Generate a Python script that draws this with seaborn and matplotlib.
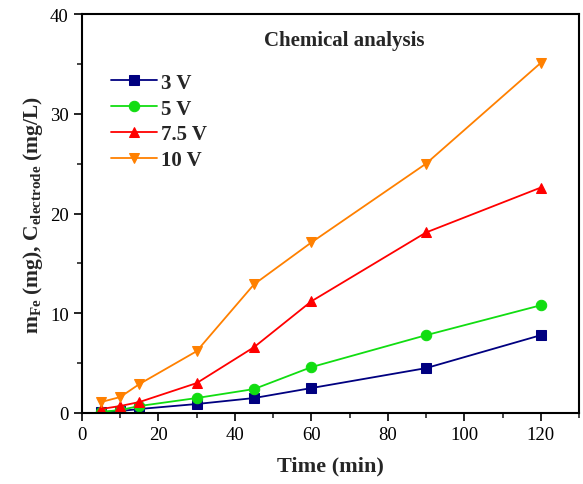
import numpy as np
import pandas as pd
import matplotlib
matplotlib.use("Agg")
import matplotlib.pyplot as plt
import seaborn as sns
from matplotlib.ticker import MultipleLocator

# Veriler
time_min = [5, 10, 15, 30, 45, 60, 90, 120]
v3 = [0.1, 0.2, 0.4, 0.9, 1.5, 2.5, 4.5, 7.8]
v5 = [0.1, 0.3, 0.7, 1.5, 2.4, 4.6, 7.8, 10.8]
v75 = [0.4, 0.7, 1.1, 3.0, 6.6, 11.2, 18.1, 22.6]
v10 = [1.1, 1.6, 2.9, 6.2, 12.9, 17.1, 25.0, 35.1]

labels = ["3 V", "5 V", "7.5 V", "10 V"]
colors = ["#000080", "#11dd11", "#ff0000", "#ff8000"]
markers = ["s", "o", "^", "v"]

sns.set_theme(style="ticks")
plt.rcParams['font.family'] = ['Liberation Serif', 'DejaVu Serif']
plt.rcParams['mathtext.fontset'] = 'custom'
plt.rcParams['mathtext.rm'] = 'Liberation Serif'
plt.rcParams['mathtext.bf'] = 'Liberation Serif:bold'
plt.rcParams['mathtext.it'] = 'Liberation Serif:italic'

fig = plt.figure(figsize=(5.83, 4.85), dpi=100)
ax = fig.add_axes([0.1407, 0.1464, 0.8524, 0.8226])

for vals, lab, c, m in zip([v3, v5, v75, v10], labels, colors, markers):
    sns.lineplot(x=time_min, y=vals, ax=ax, color=c, marker=m, markersize=7.5,
                 markeredgecolor=c, linewidth=1.3, label=lab)

ax.set_xlim(0, 130)
ax.set_ylim(0, 40)
ax.xaxis.set_major_locator(MultipleLocator(20))
ax.xaxis.set_minor_locator(MultipleLocator(10))
ax.yaxis.set_major_locator(MultipleLocator(10))
ax.yaxis.set_minor_locator(MultipleLocator(5))
ax.tick_params(which='major', direction='out', length=6, width=1.2, labelsize=13.5, colors='black')
ax.tick_params(which='minor', direction='out', length=3.5, width=1.2)
for s in ax.spines.values():
    s.set_linewidth(1.5)
    s.set_color('black')

ax.set_xlabel("Time (min)", fontsize=16, fontweight='bold', labelpad=9)
ax.set_ylabel(r"$\mathbf{m_{Fe}}$ (mg), $\mathbf{C_{electrode}}$ (mg/L)",
              fontsize=15.5, fontweight='bold', labelpad=4)
ax.text(0.527, 0.935, "Chemical analysis", transform=ax.transAxes, ha='center',
        va='center', fontsize=15, fontweight='bold')

leg = ax.legend(loc='upper left', bbox_to_anchor=(0.02, 0.9), frameon=False,
                prop={'weight': 'bold', 'size': 15}, handlelength=2.2,
                handletextpad=0.2, labelspacing=0.28)

fig.savefig("out.png", dpi=100)
